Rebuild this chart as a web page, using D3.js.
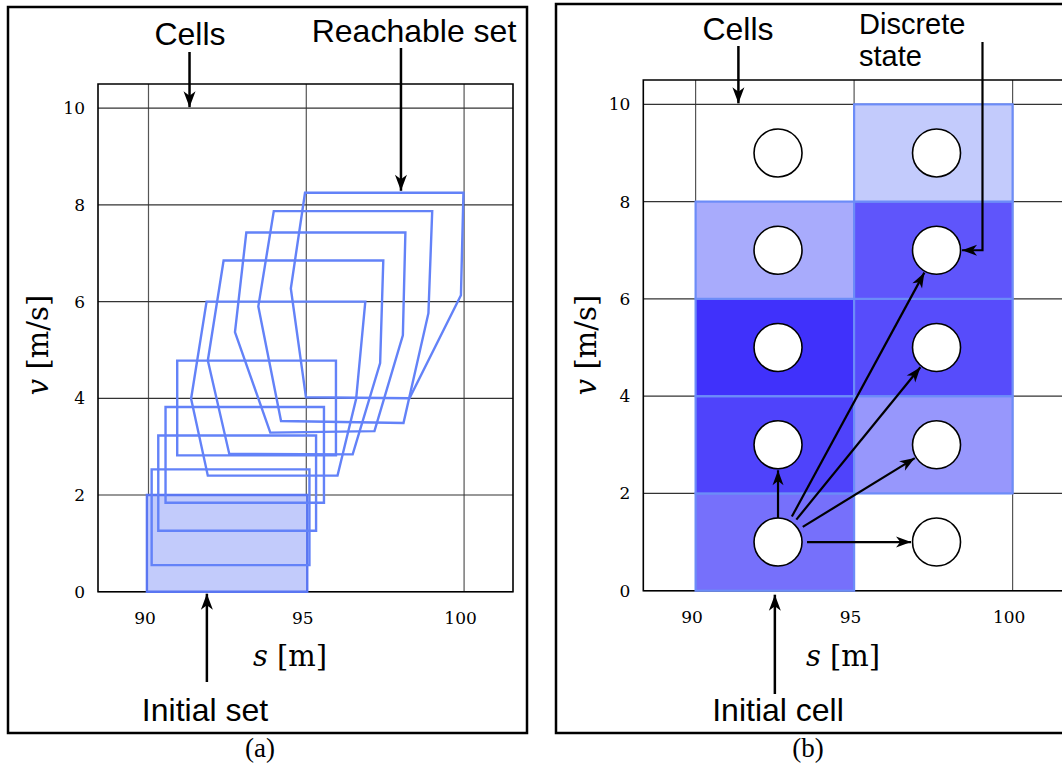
<!DOCTYPE html>
<html>
<head>
<meta charset="utf-8">
<script src="https://d3js.org/d3.v7.min.js"></script>
<style>
  body { margin: 0; background: #fff; }
  .ann { font-family: "Liberation Sans", Arial, sans-serif; font-size: 32px; fill: #000; }
  .math { font-family: "DejaVu Serif", serif; font-size: 29px; fill: #000; }
  .tick text { font-family: "DejaVu Serif", serif; font-size: 17px; fill: #000; }
  .cap { font-family: "Liberation Serif", serif; font-size: 27px; fill: #000; }
</style>
</head>
<body>
<div id="chart"></div>
<script>
// ---- data ----
var sTicks = [90, 95, 100];
var vTicks = [0, 2, 4, 6, 8, 10];

// (a) initial set and reachable sets, [s, v] vertices
var initialSet = [[89.95, 0], [95.03, 0], [95.03, 2], [89.95, 2]];
var reachSets = [
  [[90.1, 0.55], [95.1, 0.55], [95.1, 2.53], [90.1, 2.53]],
  [[90.31, 1.26], [95.31, 1.26], [95.31, 3.23], [90.31, 3.23]],
  [[90.54, 1.84], [95.56, 1.84], [95.56, 3.82], [90.54, 3.82]],
  [[90.91, 2.82], [95.94, 2.82], [95.94, 4.78], [90.91, 4.78]],
  [[91.84, 6.0], [96.87, 6.0], [96.58, 3.99], [95.99, 2.40], [91.88, 2.40], [91.35, 3.99]],
  [[92.38, 6.85], [97.44, 6.85], [97.34, 4.73], [96.47, 2.84], [92.56, 2.85], [91.88, 4.78]],
  [[93.1, 7.43], [98.14, 7.43], [98.06, 5.30], [97.16, 3.32], [93.86, 3.29], [92.74, 5.37]],
  [[93.97, 7.87], [98.99, 7.87], [98.87, 5.76], [98.08, 3.49], [94.2, 3.53], [93.48, 5.90]],
  [[94.96, 8.25], [99.98, 8.25], [99.9, 6.13], [98.27, 4.0], [94.99, 4.02], [94.51, 6.27]]
];

// (b) cells: lower-left corner [s, v] and shading weight
var cellS = [90, 90, 90, 90, 95, 95, 95, 95];
var cellV = [0, 2, 4, 6, 2, 4, 6, 8];
var cellWeight = [0.70, 0.90, 0.98, 0.44, 0.53, 0.86, 0.82, 0.30];
var cellW = 5, cellH = 2;

// discrete states (cell centres) and transitions from the initial cell
var stateS = [92.6, 97.6];
var stateV = [1, 3, 5, 7, 9];
var transFrom = [92.6, 1];
var transTo = [[92.6, 3], [97.6, 7], [97.6, 5], [97.6, 3], [97.6, 1]];

// ---- svg ----
var svg = d3.select("#chart").append("svg")
  .attr("width", 1062).attr("height", 765);

var defs = svg.append("defs");
function addHead(id, len, half) {
  defs.append("marker")
    .attr("id", id)
    .attr("markerUnits", "userSpaceOnUse")
    .attr("viewBox", (-len - 1) + " " + (-half - 1) + " " + (len + 2) + " " + (2 * half + 2))
    .attr("markerWidth", len + 2).attr("markerHeight", 2 * half + 2)
    .attr("refX", 0).attr("refY", 0)
    .attr("orient", "auto")
    .append("path")
      .attr("d", "M0,0 L" + (-len) + "," + (-half) + " L" + (-len * 0.72) + ",0 L" + (-len) + "," + half + " Z")
      .attr("fill", "#000");
}
addHead("headBig", 16, 6);
addHead("headSmall", 15, 5.5);

// panel frames
svg.append("rect").attr("x", 8).attr("y", 7).attr("width", 519).attr("height", 726)
  .attr("fill", "none").attr("stroke", "#000").attr("stroke-width", 2.5);
svg.append("rect").attr("x", 556).attr("y", 4).attr("width", 540).attr("height", 729)
  .attr("fill", "none").attr("stroke", "#000").attr("stroke-width", 2.5);

function drawAxes(g, x, y, rightBorder) {
  var x0 = x.range()[0], x1 = x.range()[1];
  var y0 = y.range()[0], y1 = y.range()[1];
  // grid
  g.append("g").selectAll("line").data(sTicks).join("line")
    .attr("x1", d => x(d)).attr("x2", d => x(d))
    .attr("y1", y0).attr("y2", y1)
    .attr("stroke", "#555").attr("stroke-width", 1.2);
  g.append("g").selectAll("line").data(vTicks).join("line")
    .attr("x1", x0).attr("x2", x1)
    .attr("y1", d => y(d)).attr("y2", d => y(d))
    .attr("stroke", "#333").attr("stroke-width", 1.2);
  // frame
  g.append("path")
    .attr("d", "M" + x1 + "," + y1 + " L" + x0 + "," + y1 + " L" + x0 + "," + y0 + " L" + x1 + "," + y0 +
      (rightBorder ? " Z" : ""))
    .attr("fill", "none").attr("stroke", "#000").attr("stroke-width", 1.6);
  // tick labels
  var ax = g.append("g").attr("class", "tick")
    .attr("transform", "translate(0," + y0 + ")")
    .call(d3.axisBottom(x).tickValues(sTicks).tickSize(0).tickPadding(20).tickFormat(d3.format("d")));
  ax.select(".domain").remove();
  ax.selectAll("text").attr("dx", -4);
  var ay = g.append("g").attr("class", "tick")
    .attr("transform", "translate(" + x0 + ",0)")
    .call(d3.axisLeft(y).tickValues(vTicks).tickSize(0).tickPadding(13).tickFormat(d3.format("d")));
  ay.select(".domain").remove();
}

function axisTitles(g, cx, cyTitle, vx, vy) {
  var t = g.append("text").attr("class", "math").attr("text-anchor", "middle")
    .attr("x", cx).attr("y", cyTitle);
  t.append("tspan").attr("font-style", "italic").text("s");
  t.append("tspan").text(" [m]");
  var tv = g.append("text").attr("class", "math").attr("text-anchor", "middle")
    .attr("transform", "translate(" + vx + "," + vy + ") rotate(-90)");
  tv.append("tspan").attr("font-style", "italic").text("v");
  tv.append("tspan").text(" [m/s]");
}

function arrow(g, x1, y1, x2, y2, head, w) {
  g.append("line").attr("x1", x1).attr("y1", y1).attr("x2", x2).attr("y2", y2)
    .attr("stroke", "#000").attr("stroke-width", w).attr("marker-end", "url(#" + head + ")");
}

// ---- panel (a) ----
var xa = d3.scaleLinear().domain([88.4, 101.55]).range([98, 513]);
var ya = d3.scaleLinear().domain([0, 10.5]).range([591.7, 84]);
var ga = svg.append("g");
drawAxes(ga, xa, ya, true);

var line = d3.line();
ga.append("path")
  .attr("d", line(initialSet.map(p => [xa(p[0]), ya(p[1])])) + "Z")
  .attr("fill", "#c2cbfb").attr("stroke", "#5a76f2").attr("stroke-width", 2.4);
ga.append("g").selectAll("path").data(reachSets).join("path")
  .attr("d", d => line(d.map(p => [xa(p[0]), ya(p[1])])) + "Z")
  .attr("fill", "none").attr("stroke", "#6382f8").attr("stroke-width", 2.4)
  .attr("stroke-linejoin", "miter");

axisTitles(ga, 290, 666, 48, 345);

ga.append("text").attr("class", "ann").attr("text-anchor", "middle").attr("x", 190).attr("y", 45).text("Cells");
arrow(ga, xa(91.3), 52, xa(91.3), ya(10) - 1, "headBig", 2.5);
ga.append("text").attr("class", "ann").attr("text-anchor", "middle").attr("x", 414).attr("y", 42).text("Reachable set");
arrow(ga, xa(98), 48, xa(98), ya(8.25) - 2, "headBig", 2.5);
ga.append("text").attr("class", "ann").attr("text-anchor", "middle").attr("x", 205).attr("y", 721).text("Initial set");
arrow(ga, xa(91.85), 682, xa(91.85), ya(0) + 2, "headBig", 2.5);
ga.append("text").attr("class", "cap").attr("text-anchor", "middle").attr("x", 260).attr("y", 757).text("(a)");

// ---- panel (b) ----
var xb = d3.scaleLinear().domain([88.35, 102]).range([643.3, 643.3 + 13.65 * 31.7]);
var yb = d3.scaleLinear().domain([0, 10.5]).range([590.7, 80]);
var gb = svg.append("g");
drawAxes(gb, xb, yb, false);

var cells = cellS.map((s, i) => ({ s: s, v: cellV[i], w: cellWeight[i] }));
var shade = d3.scaleLinear().domain([0, 0.3, 1])
  .range(["#ffffff", "#c3cbfc", "#3c2cfb"]);
gb.append("g").selectAll("rect").data(cells).join("rect")
  .attr("x", d => xb(d.s)).attr("y", d => yb(d.v + cellH))
  .attr("width", d => xb(d.s + cellW) - xb(d.s))
  .attr("height", d => yb(d.v) - yb(d.v + cellH))
  .attr("fill", d => shade(d.w))
  .attr("stroke", "#6c8cf8").attr("stroke-width", 2.2);

// transitions
var rPix = 24;
var tg = gb.append("g");
transTo.forEach(function (t) {
  var ax0 = xb(transFrom[0]), ay0 = yb(transFrom[1]);
  var bx = xb(t[0]), by = yb(t[1]);
  var dx = bx - ax0, dy = by - ay0, len = Math.sqrt(dx * dx + dy * dy);
  var ux = dx / len, uy = dy / len;
  var st = (Math.abs(ux) < 0.01) ? rPix : rPix + 5;
  arrow(tg, ax0 + ux * st, ay0 + uy * st, bx - ux * (rPix + 1.5), by - uy * (rPix + 1.5), "headSmall", 2.2);
});

var states = [];
stateS.forEach(s => stateV.forEach(v => states.push([s, v])));
gb.append("g").selectAll("circle").data(states).join("circle")
  .attr("cx", d => xb(d[0])).attr("cy", d => yb(d[1]))
  .attr("r", rPix)
  .attr("fill", "#fff").attr("stroke", "#000").attr("stroke-width", 1.6);

axisTitles(gb, 843, 666, 596, 345);

gb.append("text").attr("class", "ann").attr("text-anchor", "middle").attr("x", 738).attr("y", 40).text("Cells");
arrow(gb, xb(91.35), 46, xb(91.35), yb(10) - 1, "headBig", 2.5);
gb.append("text").attr("class", "ann").attr("x", 859).attr("y", 34).style("font-size", "29px").text("Discrete");
gb.append("text").attr("class", "ann").attr("x", 859).attr("y", 66).style("font-size", "29px").text("state");
var dsx = xb(99.05);
gb.append("polyline")
  .attr("points", [[dsx, 42], [dsx, yb(7)], [xb(97.6) + rPix + 1.5, yb(7)]].map(p => p.join(",")).join(" "))
  .attr("fill", "none").attr("stroke", "#000").attr("stroke-width", 2.2)
  .attr("marker-end", "url(#headSmall)");
gb.append("text").attr("class", "ann").attr("text-anchor", "middle").attr("x", 778).attr("y", 721).text("Initial cell");
arrow(gb, xb(92.5), 694, xb(92.5), yb(0) + 4, "headBig", 2.5);
gb.append("text").attr("class", "cap").attr("text-anchor", "middle").attr("x", 808).attr("y", 757).text("(b)");
</script>
</body>
</html>
